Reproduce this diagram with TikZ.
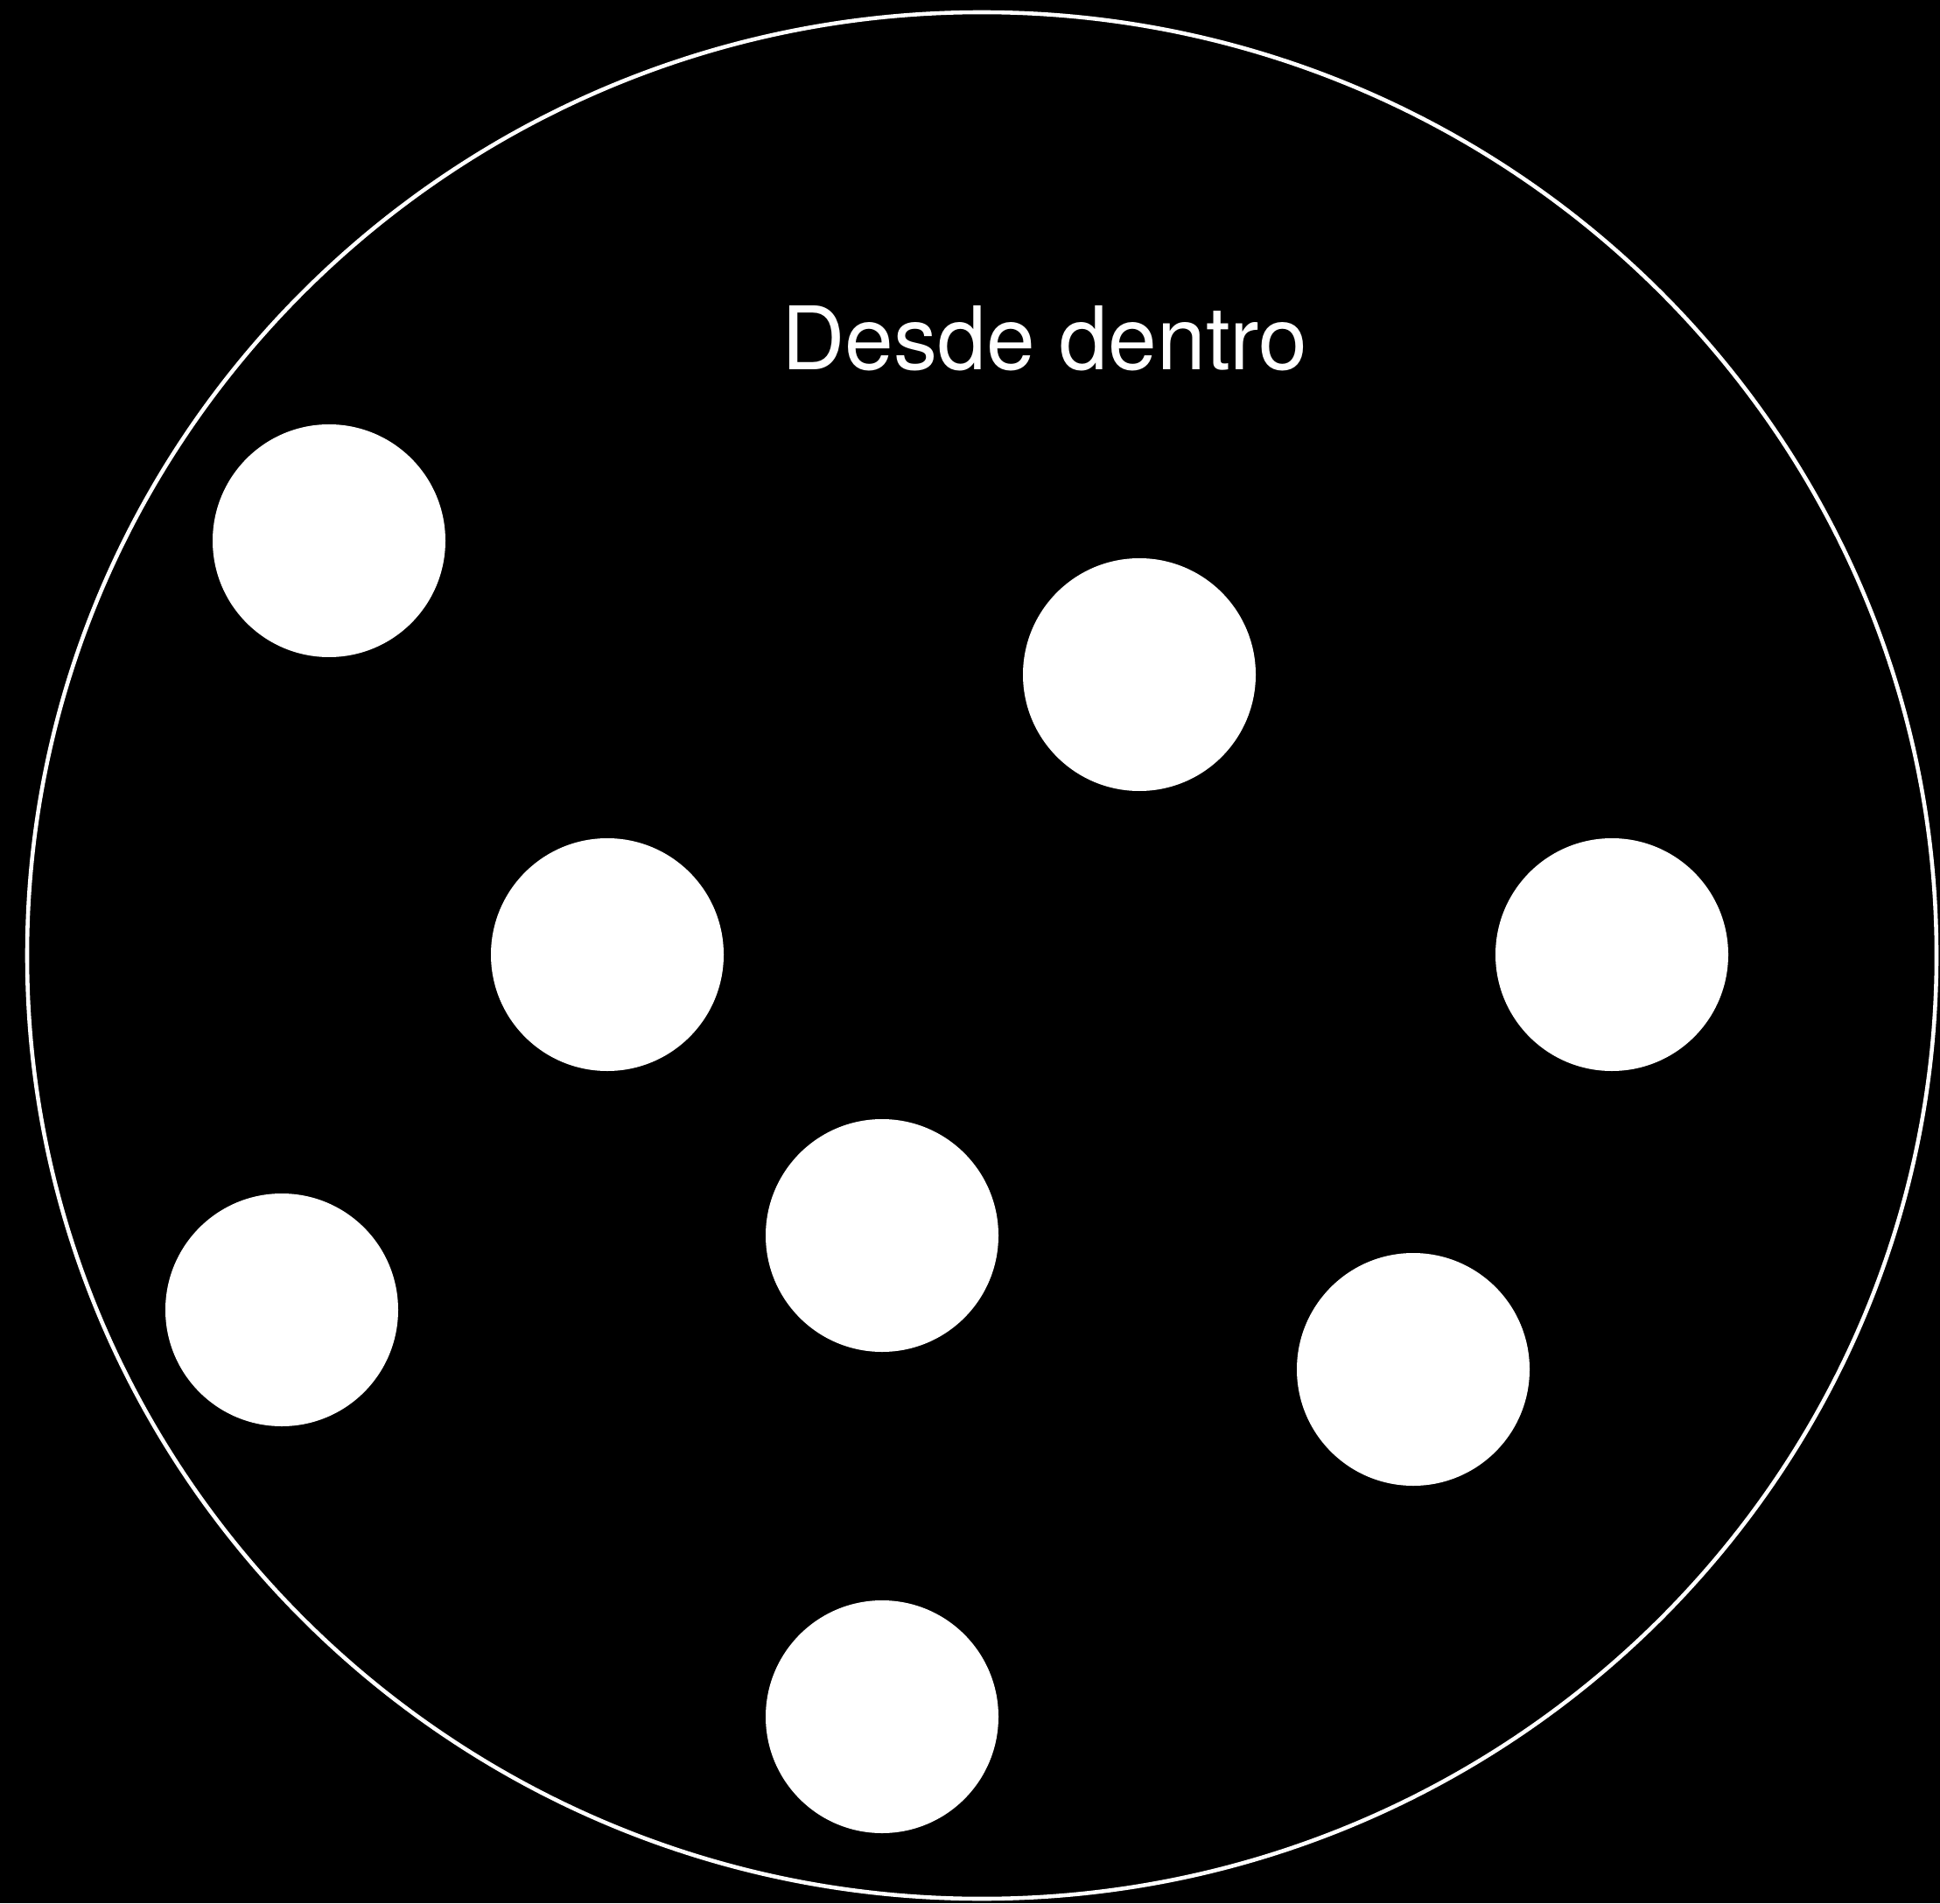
\documentclass[tikz,border=0pt]{standalone}
\usepackage{fontspec}
\setmainfont{TeX Gyre Heros}
\usepackage{tikz}
\definecolor{bg}{RGB}{0,0,0}
\definecolor{ink}{RGB}{255,255,255}
\tikzset{
  spot/.style={circle, fill=ink, inner sep=0pt, minimum size=2.66cm},
  rim/.style={draw=ink, line width=1.3pt}
}

\begin{document}
\begin{tikzpicture}
  % ---------- background ----------
  \fill[bg] (0,0) rectangle (22.17,21.75);
  \useasboundingbox (0,0) rectangle (22.17,21.75);

  % ---------- outer ellipse ----------
  \draw[rim] (11.22,10.83) ellipse (10.91 and 10.78);

  % ---------- label ----------
  \node[ink, anchor=base, font=\fontsize{28.5pt}{34pt}\selectfont] (title) at (11.94,17.52) {Desde dentro};

  % ---------- spots ----------
  \node[spot] (s1) at (3.76,15.57) {};
  \node[spot] (s2) at (13.02,14.04) {};
  \node[spot] (s3) at (6.94,10.84) {};
  \node[spot] (s4) at (18.42,10.84) {};
  \node[spot] (s5) at (10.08,7.63) {};
  \node[spot] (s6) at (3.22,6.78) {};
  \node[spot] (s7) at (16.15,6.10) {};
  \node[spot] (s8) at (10.08,2.13) {};
\end{tikzpicture}
\end{document}
